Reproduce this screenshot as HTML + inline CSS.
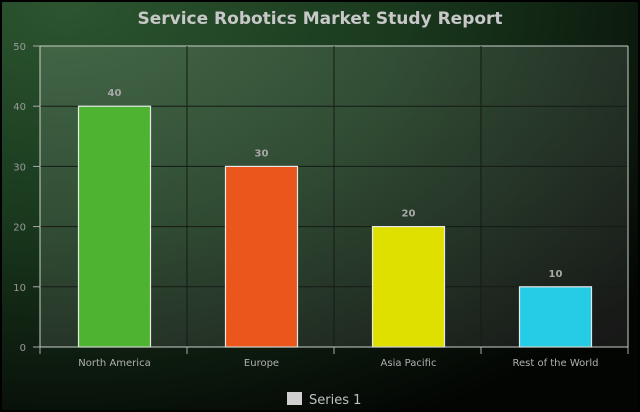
<!DOCTYPE html>
<html><head><meta charset="utf-8"><style>
html,body{margin:0;padding:0;background:#000;}
svg{display:block;font-family:"DejaVu Sans","Liberation Sans",sans-serif;}
</style></head><body>
<svg id="chart" width="640" height="412" viewBox="0 0 640 412">
<defs>
<radialGradient id="bg" cx="0.1" cy="0" r="1.15">
<stop offset="0" stop-color="#2c5530"/>
<stop offset="0.45" stop-color="#1a3a1e"/>
<stop offset="1" stop-color="#030503"/>
</radialGradient>
<linearGradient id="pl" x1="0" y1="0" x2="1" y2="1">
<stop offset="0" stop-color="#ffffff" stop-opacity="0.12"/>
<stop offset="1" stop-color="#ffffff" stop-opacity="0.08"/>
</linearGradient>
</defs>
<rect x="2" y="2" width="636" height="408" fill="url(#bg)"/>
<text x="320" y="24" text-anchor="middle" font-size="17" font-weight="bold" fill="#c8c8c8">Service Robotics Market Study Report</text>
<rect x="40" y="46" width="588" height="301" fill="url(#pl)"/>
<g id="grid"></g>
<g id="bars"></g>
<g id="axes"></g>
<rect x="287" y="392" width="15" height="13" fill="#d0d0d0"/>
<text x="309" y="404" font-size="13" fill="#c0c0c0">Series 1</text>
</svg>
<script>
const categories = ["North America","Europe","Asia Pacific","Rest of the World"];
const values = [40,30,20,10];
const colors = ["#4fb332","#ea561c","#e0e000","#25cce5"];
const yTicks = [0,10,20,30,40,50];
const NS="http://www.w3.org/2000/svg";
const X0=40,X1=628,Y0=347,Y1=46,YMAX=50;
const bw=(X1-X0)/categories.length;
function y(v){return Y0-(v/YMAX)*(Y0-Y1);}
function mk(tag,attrs,parent){const e=document.createElementNS(NS,tag);for(const k in attrs)e.setAttribute(k,attrs[k]);parent.appendChild(e);return e;}
const grid=document.getElementById('grid'),bars=document.getElementById('bars'),axes=document.getElementById('axes');
yTicks.forEach(t=>{
  if(t>0){const l=mk('line',{x1:X0,x2:X1,y1:y(t),y2:y(t),stroke:t===YMAX?'#c8d0c8':'#151a15',"stroke-width":1},grid);
  
  }
  const tk=mk('line',{x1:X0-7,x2:X0,y1:y(t),y2:y(t),stroke:'#aaa'},axes);
  
  
  const tx=mk('text',{x:X0-14,y:y(t)+4,"text-anchor":"end","font-size":10,fill:'#9a9a9a'},axes);
  tx.textContent=t;
  
  
});
categories.forEach((c,i)=>{
  if(i>0){const g=mk('line',{x1:X0+i*bw,x2:X0+i*bw,y1:Y1,y2:Y0,stroke:'#151a15'},grid);
  
  }
  const w=72,bx=X0+i*bw+(bw-w)/2+1;
  const r=mk('rect',{x:bx,y:y(values[i]),width:w,height:Y0-y(values[i]),fill:colors[i],stroke:'#e8e8e8',"stroke-width":1.2},bars);
  
  
  const v=mk('text',{x:bx+w/2,y:y(values[i])-10,"text-anchor":"middle","font-size":10,"font-weight":"bold",fill:'#a8a8a8'},bars);
  v.textContent=values[i];
  
  
  const lb=mk('text',{x:X0+i*bw+bw/2+1,y:366,"text-anchor":"middle","font-size":10,fill:'#b0b0b0'},axes);
  lb.textContent=c;
  
  
});
for(let i=0;i<=categories.length;i++){
  const t=mk('line',{x1:X0+i*bw,x2:X0+i*bw,y1:Y0,y2:Y0+7,stroke:'#aaa'},axes);
  
  
}
const ya=mk('line',{x1:X0,x2:X0,y1:Y1,y2:Y0,stroke:'#c8d0c8'},axes);


const xa=mk('line',{x1:X0,x2:X1,y1:Y0,y2:Y0,stroke:'#c8d0c8'},axes);


const ra=mk('line',{x1:X1,x2:X1,y1:Y1,y2:Y0,stroke:'#c8d0c8'},axes);


</script>
</body></html>
